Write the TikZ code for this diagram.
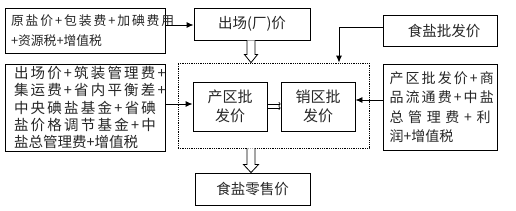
\documentclass[tikz,border=0pt]{standalone}
\usepackage{fontspec}
\setmainfont{Noto Sans CJK SC}
\usetikzlibrary{arrows.meta,calc}
\newcommand{\jl}[2]{\makebox[#1][s]{#2}}
\begin{document}
\begin{tikzpicture}[x=1pt,y=-1pt,
  box/.style={draw=black,line width=0.9pt,rectangle,inner sep=0pt,text=black!85},
  arr/.style={line width=0.9pt,-{Latex[length=7pt,width=6pt]}},
  hollow/.style={draw=black,line width=0.8pt,fill=white}]
\useasboundingbox (0,0) rectangle (516,211);
% boxes
\node[box,minimum width=160pt,minimum height=45pt,align=left,font=\fontsize{12.8}{20}\selectfont] (b1) at (85,30.5)
  {\jl{148pt}{原 盐 价 + 包 装 费 + 加 碘 费 用}\\+资源税+增值税};
\node[box,minimum width=116pt,minimum height=32pt,font=\fontsize{14.5}{17}\selectfont] (chu) at (252,24) {出场(厂)价};
\node[box,minimum width=114pt,minimum height=31pt,font=\fontsize{14.5}{17}\selectfont] (pf) at (440,30.5) {\hspace{8pt}食盐批发价};
\node[box,minimum width=160pt,minimum height=87pt,align=left,font=\fontsize{14.5}{17.3}\selectfont] (b2) at (85,107.5)
  {\jl{142pt}{出 场 价 + 筑 装 管 理 费 +}\\
   \jl{142pt}{集 运 费 + 省 内 平 衡 差 +}\\
   \jl{142pt}{中 央 碘 盐 基 金 + 省 碘}\\
   \jl{142pt}{盐 价 格 调 节 基 金 + 中}\\
   盐总管理费+增值税};
\node[draw=black,densely dotted,line width=0.8pt,rectangle,minimum width=191pt,minimum height=85pt,inner sep=0pt] (dot) at (273.5,105.5) {};
\node[box,minimum width=74pt,minimum height=49pt,align=center,font=\fontsize{15}{19}\selectfont] (cq) at (230,106.5) {产区批\\发价};
\node[box,minimum width=74pt,minimum height=49pt,align=center,font=\fontsize{15}{19}\selectfont] (xq) at (318,106.5) {销区批\\发价};
\node[box,minimum width=114pt,minimum height=86pt,align=left,font=\fontsize{14}{19.5}\selectfont] (rb) at (440,107)
  {\jl{101pt}{产 区 批 发 价 + 商}\\
   \jl{101pt}{品 流 通 费 + 中 盐}\\
   \jl{101pt}{总 管 理 费 + 利}\\
   润+增值税};
\node[box,minimum width=115pt,minimum height=32pt,font=\fontsize{14.5}{17}\selectfont] (ls) at (252.5,189) {食盐零售价};
% connectors
\draw[arr] ([yshift=-1pt]b1.east |- chu.west) -- ([yshift=-1pt]chu.west);
\coordinate (x339) at (339,0);
\draw[arr] ([yshift=3.5pt]pf.west) -| (x339 |- dot.north);
\draw[arr] ([yshift=2.5pt]b2.east |- cq.west) -- ([yshift=2.5pt]cq.west);
\draw[arr] ([yshift=6.5pt]rb.west |- xq.east) -- ([yshift=6.5pt]xq.east);
\draw[line width=0.7pt,-{To[length=2pt,width=4pt]}] ([yshift=2.5pt]cq.east) -- ([yshift=2.5pt]xq.west);
\draw[line width=0.7pt,-{To[length=2pt,width=4pt]}] ([yshift=-1.5pt]cq.east) -- ([yshift=-1.5pt]xq.west);
% hollow arrows
\coordinate (x251) at (251,0);
\coordinate (h1a) at (x251 |- chu.south);
\coordinate (h1b) at (x251 |- dot.north);
\draw[hollow] ($(h1a)+(-4,0)$) -- ($(h1b)+(-4,-8)$) -- ($(h1b)+(-6.5,-8)$) -- (h1b) -- ($(h1b)+(6.5,-8)$) -- ($(h1b)+(4,-8)$) -- ($(h1a)+(4,0)$);
\coordinate (h2a) at (x251 |- dot.south);
\coordinate (h2b) at (x251 |- ls.north);
\draw[hollow] ($(h2a)+(-4,0)$) -- ($(h2b)+(-4,-8)$) -- ($(h2b)+(-7.5,-8)$) -- (h2b) -- ($(h2b)+(7.5,-8)$) -- ($(h2b)+(4,-8)$) -- ($(h2a)+(4,0)$);
\end{tikzpicture}
\end{document}
